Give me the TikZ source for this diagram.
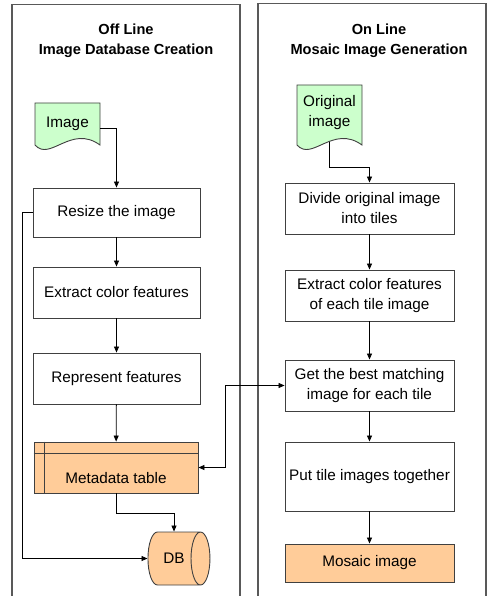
\documentclass[tikz,border=0pt]{standalone}
\usepackage{fontspec}
\setmainfont{Liberation Sans}
\usetikzlibrary{arrows.meta,shapes.geometric,backgrounds}
\definecolor{docgreen}{HTML}{CCFFCC}
\definecolor{dborange}{HTML}{FFCC99}
\definecolor{edge}{HTML}{404040}
\begin{document}
\begin{tikzpicture}[x=1pt,y=-1pt,
  >={Triangle[length=6pt,width=5pt]},
  panel/.style={draw=gray!70!black,line width=1.3pt},
  procbox/.style={draw=edge,line width=0.9pt,rectangle,inner sep=1pt,align=center,
    font=\fontsize{15.3}{20}\selectfont},
  docnode/.style={rectangle,inner sep=1pt,align=center,font=\fontsize{15.3}{20}\selectfont},
  title/.style={align=center,font=\bfseries\fontsize{14.6}{20}\selectfont},
  conn/.style={draw=black,line width=0.8pt},
  docshape/.style={draw=edge,line width=0.9pt,fill=docgreen}]
\useasboundingbox (0,0) rectangle (491,596);
% panels
\draw[panel] (12,597) -- (12,4.5) -- (240,4.5) -- (240,597);
\draw[panel] (258,597) -- (258,3.5) -- (486,3.5) -- (486,597);
\node[title] (t1) at (126,41) {Off Line\\Image Database Creation};
\node[title] (t2) at (379,41) {On Line\\Mosaic Image Generation};
% document shapes
\draw[docshape] (35,103) -- (35,145) .. controls (50,162) and (71,124) .. (100,145) -- (100,103) -- cycle;
\node[docnode,minimum width=65pt,minimum height=42pt] (img) at (67.5,124) {Image};
\draw[docshape] (297,85) -- (297,145) .. controls (312,162) and (333,124) .. (362,145) -- (362,85) -- cycle;
\node[docnode,minimum width=65pt,minimum height=56pt] (orig) at (329.5,113) {Original\\image};
% left column
\node[procbox,minimum width=167pt,minimum height=49pt] (resize) at (116.5,212.5) {Resize the image};
\node[procbox,minimum width=167pt,minimum height=51pt] (extract) at (116.5,292.5) {Extract color features};
\node[procbox,minimum width=167pt,minimum height=51pt] (repr) at (116.5,378.5) {Represent features};
\node[procbox,fill=dborange,minimum width=164pt,minimum height=51pt] (meta) at (116,467.5) {};
\draw[edge,line width=0.9pt] ([xshift=11pt]meta.north west) -- ([xshift=11pt]meta.south west);
\draw[edge,line width=0.9pt] ([yshift=-12pt]meta.north west) -- ([yshift=-12pt]meta.north east);
\node[docnode] (metatxt) at (116,478) {Metadata table};
\node[cylinder,draw=edge,line width=0.9pt,fill=dborange,minimum width=53pt,minimum height=62pt,
  aspect=1.8,inner sep=0pt,font=\fontsize{15.3}{20}\selectfont] (db) at (174,558.5) {DB};
% right column
\node[procbox,minimum width=169pt,minimum height=51pt] (divide) at (369.5,208.5) {Divide original image\\into tiles};
\node[procbox,minimum width=169pt,minimum height=51pt] (extract2) at (369.5,295.5) {Extract color features\\of each tile image};
\node[procbox,minimum width=169pt,minimum height=51pt] (get) at (369.5,385.5) {Get the best matching\\image for each tile};
\node[procbox,minimum width=169pt,minimum height=69pt] (put) at (369.5,476.5) {Put tile images together};
\node[procbox,fill=dborange,minimum width=169pt,minimum height=38pt] (mosaic) at (369.5,563) {Mosaic image};
% connectors
\coordinate (lb) at (22,212.5);
\coordinate (rb) at (225,385.5);
\draw[conn,->] ([yshift=-4pt]img.east) -| (resize.north);
\draw[conn,->] (resize) -- (extract);
\draw[conn,->] (extract) -- (repr);
\draw[conn,->] (repr) -- (meta);
\draw[conn,->] (meta.south) -- ++(0,20) -| (db.north);
\draw[conn,->] (resize.west) -- (lb) |- (db.west);
\draw[conn,<->] (get.west) -- (rb) |- (meta.east);
\begin{scope}[on background layer]
\draw[conn,->] (orig.south) -- ++(0,26) -| (divide.north);
\end{scope}
\draw[conn,->] (divide) -- (extract2);
\draw[conn,->] (extract2) -- (get);
\draw[conn,->] (get) -- (put);
\draw[conn,->] (put) -- (mosaic);
\end{tikzpicture}
\end{document}
